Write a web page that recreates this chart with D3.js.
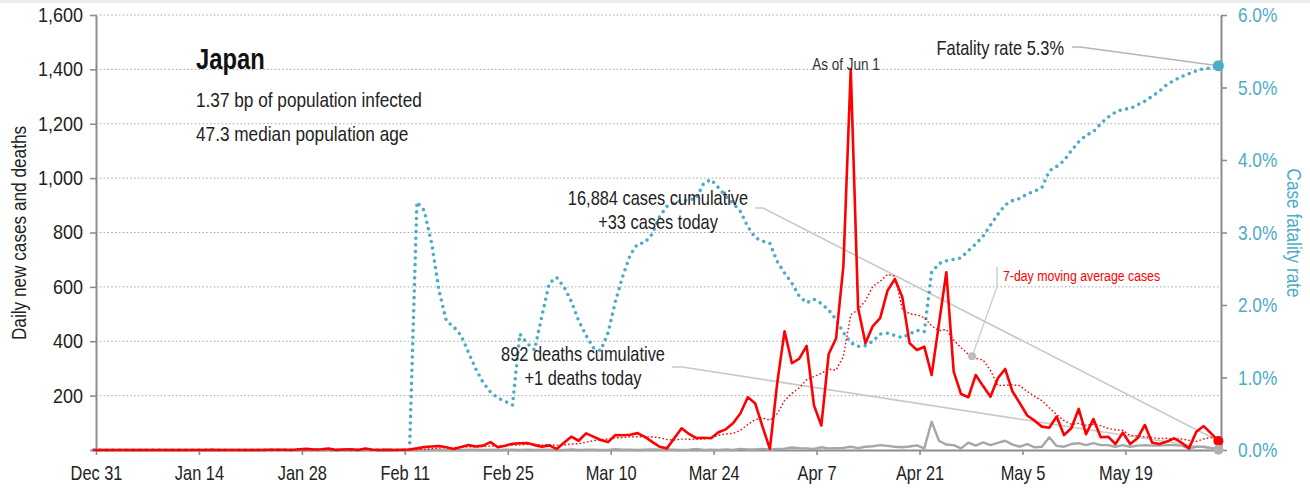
<!DOCTYPE html>
<html><head><meta charset="utf-8">
<script src="https://cdn.jsdelivr.net/npm/d3@7"></script>
<style>
body{margin:0;background:#fff}
svg{display:block}
text{font-family:'Liberation Sans',Arial,sans-serif}
</style>
</head><body>
<svg id="chart" width="1310" height="488"></svg>
<script>
// ---------------- DATA ----------------
const startDay = "2019-12-31";
const endDay = "2020-06-01";
const dateTickLabels = ["Dec 31","Jan 14","Jan 28","Feb 11","Feb 25","Mar 10","Mar 24","Apr 7","Apr 21","May 5","May 19"];
const leftTicks = [0,200,400,600,800,1000,1200,1400,1600];
const rightTicks = [0,1,2,3,4,5,6];

// daily new cases, Dec 31 .. Jun 1
const dailyCases = [
 0,0,0,0,0,0,0,0,0,0,0,0,0,0,0,0,
 1,
 0,0,0,0,0,0,0,
 1,1,1,0,3,4,2,3,5,0,2,3,0,5,1,0,1,0,1,
 2,6,11,13,15,10,4,11,18,13,
 16,29,10,16,23,25,26,18,12,17,
 4,27,49,34,61,49,37,29,55,54,
 56,62,48,30,12,6,43,80,59,44,
 45,43,65,76,98,135,194,172,86,4,
 246,437,319,336,383,164,90,353,410,677,
 1401,522,393,456,485,586,629,564,393,368,
 380,276,465,654,288,206,194,276,235,196,
 264,298,215,172,127,108,86,82,123,55,
 80,151,58,114,47,49,22,64,22,43,
 92,27,22,31,43,27,6,67,88,61,
 33
];
// 7-day moving average of cases
const movingAvgCases = [
 0,0,0,0,0,0,0,0,0,0,0,0,0,0,0,0,
 0.1,0.1,0.1,0.1,0.1,0.1,0.1,
 0,
 0.1,0.3,0.4,0.4,0.9,1.4,1.7,2.0,2.6,2.4,2.7,2.7,2.1,2.6,2.3,1.6,1.7,1.4,1.1,
 1.4,1.6,3.0,4.9,6.9,8.3,8.7,10.0,11.7,12.0,
 12.4,14.4,14.4,16.1,17.9,18.9,20.7,21.0,18.6,19.6,
 17.9,18.4,21.9,23.0,29.1,34.4,37.3,40.9,44.9,45.6,
 48.7,48.9,48.7,47.7,45.3,38.3,36.7,40.1,39.7,39.1,
 41.3,45.7,54.1,58.9,61.4,72.3,93.7,111.9,118.0,109.3,
 133.6,182.0,208.3,228.6,258.7,269.9,282.1,297.4,293.6,344.7,
 496.9,516.7,549.4,601.7,620.6,645.7,638.9,519.3,500.9,497.3,
 486.4,456.6,439.3,442.9,403.4,376.7,351.9,337.0,331.1,292.7,
 237.0,238.4,239.7,236.6,215.3,197.1,181.4,155.4,130.4,107.6,
 94.4,97.9,90.7,94.7,89.7,79.1,74.4,72.1,53.7,51.6,
 48.4,45.6,41.7,43.0,40.0,40.7,35.4,31.9,40.6,46.1,
 46.4
];
// daily new deaths
const dailyDeaths = [
 0,0,0,0,0,0,0,0,0,0,0,0,0,0,0,0,0,0,0,0,0,0,
 0,0,0,0,0,0,0,0,0,0,0,0,0,0,0,0,0,0,0,0,0,0,
 1,
 0,0,0,0,0,0,1,1,0,1,
 0,1,1,0,1,0,1,1,0,0,
 2,0,1,1,0,0,3,1,1,0,
 1,2,1,2,1,0,1,4,0,1,
 0,2,0,4,2,2,4,1,4,5,
 9,7,6,4,10,6,7,8,12,7,12,14,
 18,15,12,10,13,17,6,104,34,20,
 18,6,27,16,28,18,26,34,20,12,
 22,10,12,47,15,12,22,25,18,25,
 18,18,12,18,12,16,18,16,16,18,
 18,16,6,12,12,8,1
];
// case fatality rate (%)
const fatalityRate = [
 0,0,0,0,0,0,0,0,0,0,0,0,0,0,0,0,0,0,0,0,0,0,
 0,0,0,0,0,0,0,0,0,0,0,0,0,0,0,0,0,0,0,0,0,0,
 3.42,3.30,2.85,2.20,1.78,1.70,1.58,1.35,1.12,0.93,
 0.80,0.72,0.67,0.62,1.60,1.47,1.38,1.85,2.30,2.38,
 2.25,2.05,1.78,1.58,1.41,1.37,1.62,2.05,2.40,2.69,
 2.84,2.86,2.98,3.22,3.36,3.41,3.44,3.45,3.47,3.68,
 3.73,3.62,3.50,3.40,3.29,3.08,2.93,2.88,2.85,2.60,
 2.44,2.30,2.12,2.03,2.08,2.02,1.93,1.80,1.62,1.48,
 1.43,1.44,1.50,1.60,1.61,1.58,1.55,1.60,1.65,1.63,
 2.45,2.57,2.61,2.63,2.65,2.75,2.84,2.95,3.10,3.25,
 3.38,3.44,3.47,3.53,3.57,3.62,3.85,3.91,3.99,4.13,
 4.25,4.34,4.39,4.50,4.59,4.66,4.70,4.71,4.76,4.81,
 4.88,4.95,5.04,5.10,5.15,5.19,5.23,5.26,5.27,5.30
];
const titleText = "Japan";
const subtitleLines = ["1.37 bp of population infected","47.3 median population age"];
const casesNote = ["16,884 cases cumulative","+33 cases today"];
const deathsNote = ["892 deaths cumulative","+1 deaths today"];
const rateNote = "Fatality rate 5.3%";
const maNote = "7-day moving average cases";
const asOfNote = "As of Jun 1";
const leftTitle = "Daily new cases and deaths";
const rightTitle = "Case fatality rate";

// ---------------- STYLE / LAYOUT ----------------
const BLUE = "#4bacc6", RED = "#ff0000", GRAY = "#a6a6a6", AXIS = "#8c8c8c", NOTE = "#c9c9c9";
const X0 = 96, X1 = 1221, Y0 = 450, Y1 = 15;
const DATA_SHIFT_HOURS = 8.5;
const SX = 0.82; // horizontal compression to emulate a condensed face

const parse = d3.timeParse("%Y-%m-%d");
const start = parse(startDay), end = parse(endDay);
const dates = dailyCases.map((_, i) => d3.timeDay.offset(start, i));

const svg = d3.select("#chart");
svg.append("rect").attr("x",0).attr("y",0).attr("width",1310).attr("height",3).attr("fill","#eeeeee");

const x = d3.scaleTime().domain([start, end]).range([X0, X1]);
const xd = d => x(new Date(+d - DATA_SHIFT_HOURS * 3600e3));
const y = d3.scaleLinear().domain([0, 1600]).range([Y0, Y1]);
const y2 = d3.scaleLinear().domain([0, 6]).range([Y0, Y1]);

function label(px, py, str, size, opt = {}) {
  const rot = opt.rotate ? ` rotate(${opt.rotate})` : "";
  return svg.append("text")
    .attr("transform", `translate(${px},${py})${rot} scale(${opt.sx || SX},1)`)
    .attr("text-anchor", opt.anchor || "start")
    .attr("font-size", size)
    .attr("font-weight", opt.weight || "normal")
    .attr("fill", opt.fill || "#222")
    .text(str);
}
function narrowAxisText(g, sx) {
  g.selectAll("text").each(function () {
    const t = d3.select(this);
    const tx = +t.attr("x") || 0, ty = +t.attr("y") || 0;
    t.attr("x", null).attr("y", null).attr("transform", `translate(${tx},${ty}) scale(${sx},1)`);
  });
}

// gridlines
svg.append("g").selectAll("line").data(leftTicks.filter(d => d > 0)).join("line")
  .attr("x1", X0).attr("x2", X1).attr("y1", d => y(d)).attr("y2", d => y(d))
  .attr("stroke", "#a8a8a8").attr("stroke-width", 1).attr("stroke-dasharray", "1.6,2.2");

// axes
const tickDates = dateTickLabels.map((_, i) => d3.timeDay.offset(start, i * 14));
const gx = svg.append("g").attr("transform", `translate(0,${Y0})`)
  .call(d3.axisBottom(x).tickValues(tickDates).tickFormat((d, i) => dateTickLabels[i]).tickSize(5).tickSizeOuter(0));
gx.selectAll("text").attr("y", 16).attr("font-size", 20).attr("fill", "#222");
narrowAxisText(gx, SX);

const gy = svg.append("g").attr("transform", `translate(${X0},0)`)
  .call(d3.axisLeft(y).tickValues(leftTicks).tickFormat(d => d === 0 ? "" : d3.format(",")(d)).tickSize(6).tickSizeOuter(0));
gy.selectAll("text").attr("x", -13).attr("font-size", 20).attr("fill", "#222");
narrowAxisText(gy, 0.9);

const gy2 = svg.append("g").attr("transform", `translate(${X1},0)`)
  .call(d3.axisRight(y2).tickValues(rightTicks).tickFormat(d => d.toFixed(1) + "%").tickSize(6).tickSizeOuter(0));
gy2.selectAll("text").attr("x", 17).attr("font-size", 21).attr("fill", BLUE);
narrowAxisText(gy2, SX);

[gx, gy, gy2].forEach(g => {
  g.select(".domain").attr("stroke", AXIS).attr("stroke-width", 2);
  g.selectAll(".tick line").attr("stroke", AXIS).attr("stroke-width", 1.6);
});

// axis titles
label(26, 233, leftTitle, 21, {rotate: -90, anchor: "middle"});
label(1287, 233, rightTitle, 21, {rotate: 90, anchor: "middle", fill: BLUE});

// annotation leader lines
const poly = d3.line();
const lastI = dailyCases.length - 1;
const lastX = xd(dates[lastI]);
svg.append("path").attr("d", poly([[755,208],[763,208],[lastX, y(dailyCases[lastI])]]))
  .attr("fill","none").attr("stroke",NOTE).attr("stroke-width",1.6);
svg.append("path").attr("d", poly([[672,367],[682,367],[lastX, y(dailyDeaths[lastI])]]))
  .attr("fill","none").attr("stroke",NOTE).attr("stroke-width",1.6);
svg.append("path").attr("d", poly([[1072,47],[1080,47],[lastX, y2(fatalityRate[lastI])]]))
  .attr("fill","none").attr("stroke","#b5b5b5").attr("stroke-width",1.6);
const maI = 119;
const maPt = [xd(new Date(+dates[maI] + 12 * 3600e3)), y((movingAvgCases[maI] + movingAvgCases[maI + 1]) / 2)];
svg.append("path").attr("d", poly([[997,267],[997,287],maPt]))
  .attr("fill","none").attr("stroke",NOTE).attr("stroke-width",1.3);

// series lines
const idx = d3.range(dailyCases.length);
svg.append("path").datum(idx)
  .attr("d", d3.line().x(i => xd(dates[i])).y(i => y2(fatalityRate[i])))
  .attr("fill","none").attr("stroke",BLUE).attr("stroke-width",3.6)
  .attr("stroke-linecap","round").attr("stroke-dasharray","0 6.6");
svg.append("path").datum(idx)
  .attr("d", d3.line().x(i => xd(dates[i])).y(i => y(dailyDeaths[i])))
  .attr("fill","none").attr("stroke",GRAY).attr("stroke-width",2.4).attr("stroke-linejoin","round");
svg.append("path").datum(idx)
  .attr("d", d3.line().x(i => xd(dates[i])).y(i => y(movingAvgCases[i])))
  .attr("fill","none").attr("stroke",RED).attr("stroke-width",1.4).attr("stroke-dasharray","1.6,2.2");
svg.append("path").datum(idx)
  .attr("d", d3.line().x(i => xd(dates[i])).y(i => y(dailyCases[i])))
  .attr("fill","none").attr("stroke",RED).attr("stroke-width",2.6).attr("stroke-linejoin","round");

// end markers
svg.append("circle").attr("cx", lastX).attr("cy", y2(fatalityRate[lastI])).attr("r", 5.5).attr("fill", BLUE);
svg.append("circle").attr("cx", lastX).attr("cy", y(dailyCases[lastI])).attr("r", 5).attr("fill", RED);
svg.append("circle").attr("cx", lastX).attr("cy", y(dailyDeaths[lastI])).attr("r", 5).attr("fill", "#b0b0b0");
svg.append("circle").attr("cx", maPt[0]).attr("cy", maPt[1]).attr("r", 4).attr("fill", "#bdbdbd");

// texts
label(196, 69, titleText, 29, {weight: "bold", fill: "#111"});
subtitleLines.forEach((t, i) => label(196, 107 + i * 34, t, 21));
casesNote.forEach((t, i) => label(658, 205 + i * 24, t, 20, {anchor: "middle"}));
deathsNote.forEach((t, i) => label(583, 361 + i * 24, t, 20, {anchor: "middle"}));
label(1064, 55, rateNote, 20, {anchor: "end"});
label(1003, 281, maNote, 15, {fill: RED});
label(846, 70, asOfNote, 16.5, {anchor: "middle", fill: "#333"});
</script>
</body></html>
